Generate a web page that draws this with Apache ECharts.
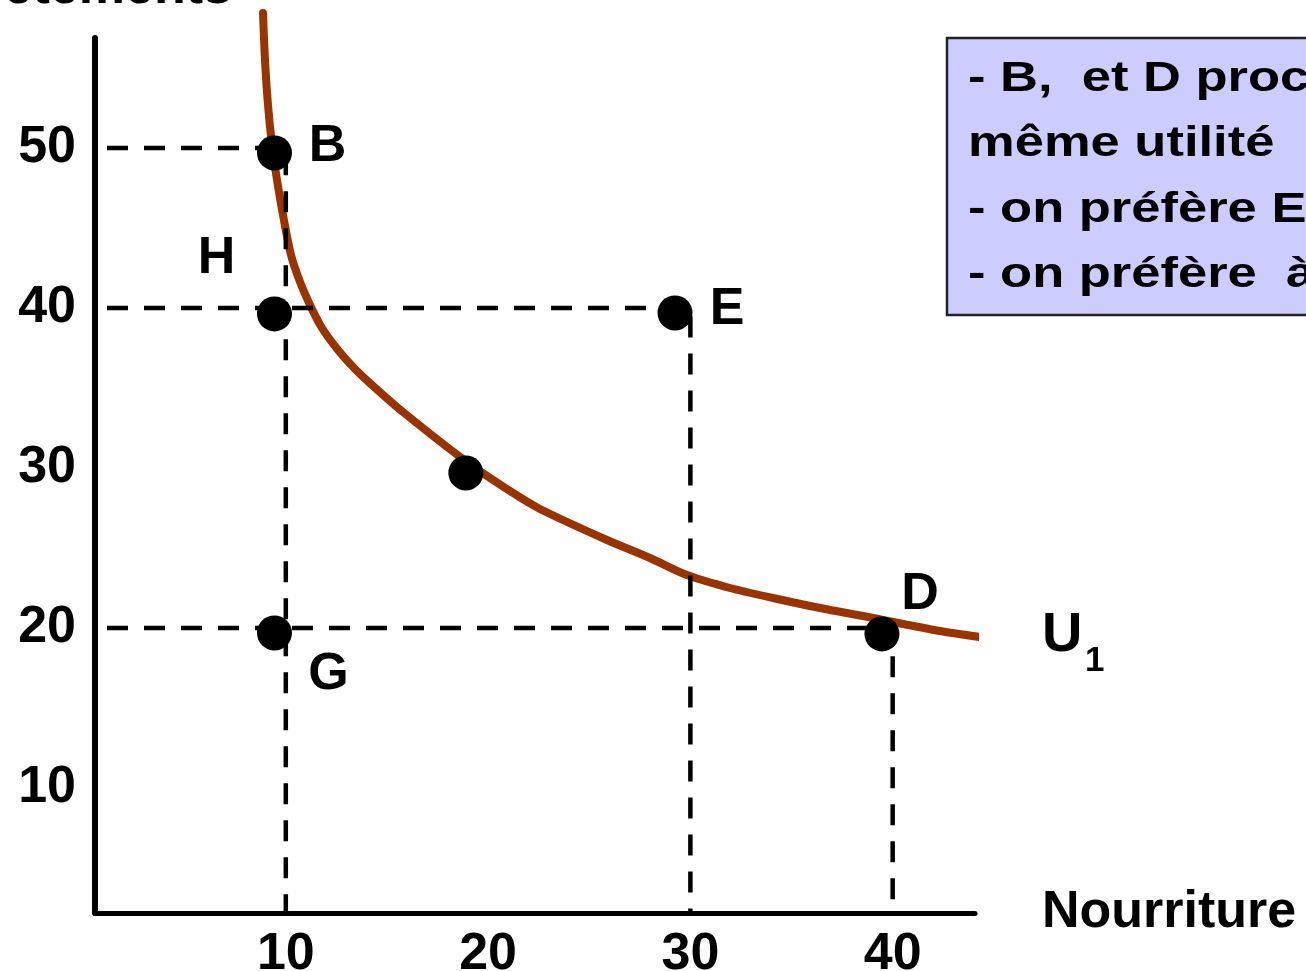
<!DOCTYPE html>
<html>
<head>
<meta charset="utf-8">
<script src="https://cdn.jsdelivr.net/npm/echarts@6/dist/echarts.min.js"></script>
<style>
html,body{margin:0;padding:0;background:#ffffff;overflow:hidden}
#chart{width:1306px;height:971px}
</style>
</head>
<body>
<div id="chart"></div>
<script>
// ---- data ----
const xTickValues = [10, 20, 30, 40];
const yTickValues = [10, 20, 30, 40, 50];
const xAxisTitle = 'Nourriture';
const yAxisTitle = 'Vêtements';
const curveName = 'U';
const curveSub = '1';
// indifference curve U1 (x = nourriture, y = vêtements)
const curveX = [8.873, 8.972, 9.120, 9.318, 9.565, 9.862, 10.257, 10.702, 11.196, 11.789, 12.580, 13.421, 14.261, 15.793, 18.957, 21.231, 22.565, 25.878, 28.003, 29.832, 31.958, 34.083, 36.406, 39.026, 42.338, 44.661];
const curveY = [58.44, 55.50, 52.69, 50.19, 48.00, 45.81, 43.31, 41.63, 40.19, 38.75, 37.38, 36.19, 35.19, 33.50, 30.375, 28.44, 27.44, 25.50, 24.375, 23.31, 22.50, 21.875, 21.25, 20.625, 19.81, 19.375];
// marked bundles
const pointNames = ['B', 'H', 'G', 'E', '', 'D'];
const pointX = [9.44, 9.44, 9.44, 29.24, 18.9, 39.47];
const pointY = [49.69, 39.63, 19.69, 39.69, 29.69, 19.63];
// dashed guide lines: start x, level y, drop x
const guideStartX = [1.16, 1.16, 1.16];
const guideLevelY = [50, 40, 20];
const guideDropX = [10, 30, 40];
const noteLines = ['- B,  et D procurent', 'même utilité', '- on préfère E', '- on préfère  à'];

// ---- chart ----
const FONT = '"Liberation Sans", Arial, sans-serif';
const xMin = 0.568, xMax = 44.07, yMin = 2.1875, yMax = 56.875;

const labelOffsets = {
  'B': [53, -6],
  'H': [-58, -55],
  'G': [54, 42],
  'E': [52, -3],
  'D': [38, -39]
};

const guideSeries = guideLevelY.map((yv, i) => ({
  type: 'line',
  data: [[guideStartX[i], yv], [guideDropX[i], yv], [guideDropX[i], yMin]],
  symbol: 'none',
  silent: true,
  z: 3,
  lineStyle: { color: '#000', width: 4.5, type: [21, 16], cap: 'butt', opacity: 1 },
  animation: false
}));

const curveData = curveX.map((x, i) => [x, curveY[i]]);
const pointData = pointX.map((x, i) => {
  const name = pointNames[i];
  const off = labelOffsets[name] || [0, 0];
  return {
    value: [x, pointY[i]],
    name: name,
    label: {
      show: name !== '',
      position: 'inside',
      offset: off,
      formatter: '{b}',
      color: '#000',
      opacity: 1,
      fontFamily: FONT,
      fontWeight: 'bold',
      fontSize: 52
    }
  };
});

const noteGraphics = noteLines.map((t, i) => ({
  type: 'text',
  x: 968,
  y: [79, 144, 210, 275][i],
  scaleX: 1.25,
  z: 101,
  style: {
    text: t,
    fill: '#000',
    font: 'bold 42px ' + FONT,
    verticalAlign: 'middle',
    align: 'left'
  }
}));

const option = {
  backgroundColor: '#ffffff',
  animation: false,
  grid: { left: 95, top: 38, width: 880, height: 875, containLabel: false, outerBoundsMode: 'none' },
  xAxis: {
    type: 'value',
    min: xMin,
    max: xMax,
    name: xAxisTitle,
    nameLocation: 'end',
    nameGap: 67,
    nameTextStyle: { color: '#000', fontFamily: FONT, fontWeight: 'bold', fontSize: 52, align: 'left', verticalAlign: 'middle', padding: [0, 0, 4, 0] },
    axisLine: { show: true, onZero: false, lineStyle: { color: '#000', width: 5 } },
    axisTick: { show: false },
    splitLine: { show: false },
    axisLabel: {
      customValues: xTickValues,
      margin: 16,
      color: '#000',
      fontFamily: FONT,
      fontWeight: 'bold',
      fontSize: 52
    }
  },
  yAxis: {
    type: 'value',
    min: yMin,
    max: yMax,
    axisLine: { show: true, onZero: false, lineStyle: { color: '#000', width: 6 } },
    axisTick: { show: false },
    splitLine: { show: false },
    axisLabel: {
      customValues: yTickValues,
      margin: 19,
      color: '#000',
      fontFamily: FONT,
      fontWeight: 'bold',
      fontSize: 52
    }
  },
  series: [
    {
      type: 'line',
      name: curveName + curveSub,
      data: curveData,
      smooth: 0.3,
      symbol: 'none',
      clip: false,
      z: 2,
      lineStyle: { color: '#993300', width: 8, cap: 'round', join: 'round', opacity: 1 }
    },
    ...guideSeries,
    {
      type: 'scatter',
      data: pointData,
      symbol: 'circle',
      symbolSize: 35,
      clip: false,
      z: 4,
      itemStyle: { color: '#000', opacity: 1 },
      emphasis: { disabled: true }
    }
  ],
  graphic: [
    {
      type: 'text',
      x: -31,
      y: -11,
      z: 100,
      style: { text: yAxisTitle, fill: '#000', font: 'bold 52px ' + FONT, verticalAlign: 'middle', align: 'left' }
    },
    {
      type: 'text',
      x: 1042,
      y: 636,
      z: 100,
      style: { text: curveName, fill: '#000', font: 'bold 56px ' + FONT, verticalAlign: 'middle', align: 'left' }
    },
    {
      type: 'text',
      x: 1085,
      y: 661,
      z: 100,
      style: { text: curveSub, fill: '#000', font: 'bold 35px ' + FONT, verticalAlign: 'middle', align: 'left' }
    },
    {
      type: 'rect',
      z: 99,
      shape: { x: 947, y: 38, width: 420, height: 277 },
      style: { fill: '#CCCCFF', stroke: '#222222', lineWidth: 2.5 }
    },
    ...noteGraphics
  ]
};

const chart = echarts.init(document.getElementById('chart'), null, { renderer: 'canvas' });
chart.setOption(option);
</script>
</body>
</html>
